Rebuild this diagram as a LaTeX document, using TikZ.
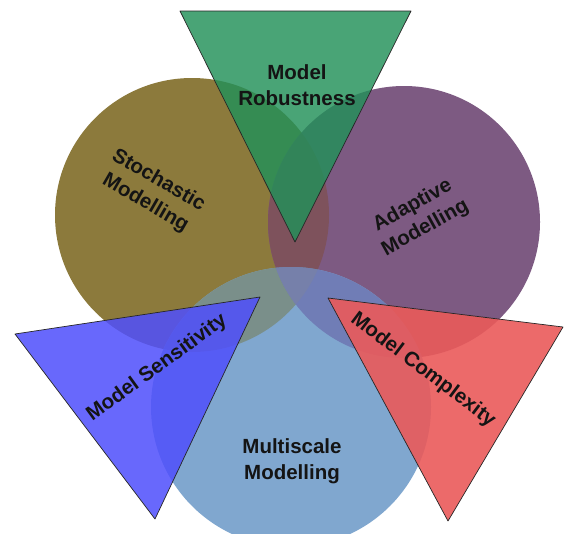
\documentclass[tikz,border=0pt]{standalone}
\usepackage{fontspec}
\setmainfont{Liberation Sans}
\begin{document}
\begin{tikzpicture}[x=1pt,y=-1pt,
  lbl/.style={font=\bfseries\fontsize{20.5}{26}\selectfont, text=black!92, align=center, inner sep=0pt},
  tri/.style={draw=black!85, line width=0.7pt, line join=round, fill opacity=0.82}]
\definecolor{olive}{RGB}{140,122,60}
\definecolor{purp}{RGB}{125,90,130}
\definecolor{bluec}{RGB}{128,167,207}
\definecolor{colOP}{RGB}{126,82,92}
\definecolor{colOB}{RGB}{122,143,138}
\definecolor{colPB}{RGB}{112,125,182}
\definecolor{colOPB}{RGB}{118,128,170}
\definecolor{greent}{RGB}{34,144,89}
\definecolor{bluet}{RGB}{80,80,252}
\definecolor{redt}{RGB}{234,90,90}
\useasboundingbox (0,0) rectangle (564,533);
\fill[white] (0,0) rectangle (564,533);
% circle centres
\coordinate (O) at (192,215);
\coordinate (P) at (404,222);
\coordinate (B) at (291,407);
\def\ro{137pt}\def\rp{136pt}\def\rb{140pt}
\begin{scope}
\clip (0,0) rectangle (564,533);
\fill[olive] (O) circle[radius=\ro];
\fill[purp] (P) circle[radius=\rp];
\fill[bluec] (B) circle[radius=\rb];
\begin{scope}\clip (O) circle[radius=\ro]; \fill[colOP] (P) circle[radius=\rp];\end{scope}
\begin{scope}\clip (O) circle[radius=\ro]; \fill[colOB] (B) circle[radius=\rb];\end{scope}
\begin{scope}\clip (P) circle[radius=\rp]; \fill[colPB] (B) circle[radius=\rb];\end{scope}
\begin{scope}\clip (O) circle[radius=\ro]; \clip (P) circle[radius=\rp]; \fill[colOPB] (B) circle[radius=\rb];\end{scope}
\end{scope}
% triangles
\coordinate (g1) at (180,11); \coordinate (g2) at (411,11); \coordinate (g3) at (295,242);
\coordinate (b1) at (15,334); \coordinate (b2) at (260,297); \coordinate (b3) at (155,519);
\coordinate (r1) at (328,298); \coordinate (r2) at (563,327); \coordinate (r3) at (448,521);
\filldraw[tri, fill=greent] (g1) -- (g2) -- (g3) -- cycle;
\filldraw[tri, fill=bluet, fill opacity=0.86] (b1) -- (b2) -- (b3) -- cycle;
\filldraw[tri, fill=redt, fill opacity=0.9] (r1) -- (r2) -- (r3) -- cycle;
% labels
\node[lbl] (tRob) at (297,85) {Model\\Robustness};
\node[lbl, rotate=-30] (tSto) at (152,192) {Stochastic\\Modelling};
\node[lbl, rotate=29] (tAda) at (419,217) {Adaptive\\Modelling};
\node[lbl] (tMul) at (292,461) {Multiscale\\Modelling};
\node[lbl, rotate=36] (tSen) at (157,368) {Model Sensitivity};
\node[lbl, rotate=-37] (tCom) at (423,370) {Model Complexity};
\end{tikzpicture}
\end{document}
